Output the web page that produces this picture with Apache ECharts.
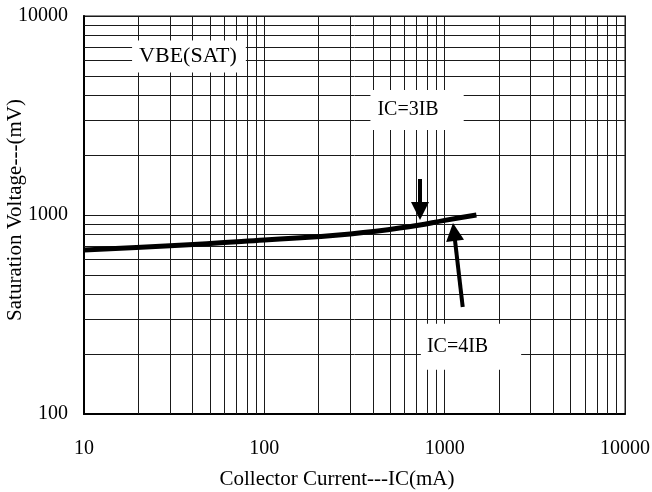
<!DOCTYPE html>
<html><head><meta charset="utf-8">
<script src="https://cdn.jsdelivr.net/npm/echarts@6/dist/echarts.min.js"></script>
<style>html,body{margin:0;padding:0;background:#fff}#c{width:652px;height:492px}</style>
</head><body><div id="c"></div>
<script>
// Curve data: Collector current (mA) vs VBE(SAT) (mV)
var currentMA = [10, 30, 100, 300, 700, 1000, 1500];
var vbeSatMV  = [667, 700, 749, 803, 885, 940, 1000];

// Minor grid positions (log decades)
var xMinorGrid = [20,30,40,50,60,70,80,90,200,300,400,500,600,700,800,900,2000,3000,4000,5000,6000,7000,8000,9000];
var yMinorGrid = [200,300,400,500,600,700,800,900,2000,3000,4000,5000,6000,7000,8000,9000];

// Annotation labels: [x, y] anchor in data units
var labelTexts = ['VBE(SAT)', 'IC=3IB', 'IC=4IB'];
var labelX = [38.2, 703, 1400];
var labelY = [6260, 3371, 218];

// Arrows: [x0, y0] -> [x1, y1]
var arrow3IB = [[730, 1517], [730, 1047]];
var arrow4IB = [[1259, 345], [1127, 822]];

var FONT = 'Liberation Serif';
var chart = echarts.init(document.getElementById('c'), null, {renderer: 'canvas'});

var gridLine = {color: '#1a1a1a', width: 1, type: 'solid'};
var minorMarks = [];
xMinorGrid.forEach(function (v) { minorMarks.push({xAxis: v}); });
yMinorGrid.forEach(function (v) { minorMarks.push({yAxis: v}); });

var paddings = [[5, 9, 5, 7], [10, 25, 10, 7], [13, 33, 13, 6]];
var fontSizes = [22, 20, 20];

var labelSeries = labelTexts.map(function (t, i) {
  return {
    type: 'scatter', z: 5, silent: true, symbolSize: 0,
    itemStyle: {color: '#fff', opacity: 1},
    data: [[labelX[i], labelY[i]]],
    label: {
      show: true, position: 'inside', formatter: t,
      fontFamily: FONT, fontSize: fontSizes[i], color: '#000', opacity: 1,
      backgroundColor: '#fff', padding: paddings[i]
    }
  };
});

function plain(v) { return String(Math.round(v)); }

var option = {
  animation: false,
  backgroundColor: '#fff',
  grid: {left: 84, right: 27, top: 16, bottom: 78, containLabel: false, outerBoundsMode: 'none',
         show: true, borderColor: '#888', borderWidth: 2, backgroundColor: '#fff'},
  xAxis: {
    type: 'log', logBase: 10, min: 10, max: 10000,
    name: 'Collector Current---IC(mA)', nameLocation: 'middle', nameGap: 55,
    nameTextStyle: {fontFamily: FONT, fontSize: 21, color: '#000', padding: [0, 35, 0, 0]},
    axisLine: {show: true, lineStyle: {color: '#000', width: 2}},
    axisTick: {show: false},
    axisLabel: {fontFamily: FONT, fontSize: 20, color: '#000', margin: 25, formatter: plain},
    splitLine: {show: true, lineStyle: gridLine}
  },
  yAxis: {
    type: 'log', logBase: 10, min: 100, max: 10000,
    name: 'Saturation Voltage---(mV)', nameLocation: 'middle', nameGap: 58, nameMoveOverlap: false,
    nameTextStyle: {fontFamily: FONT, fontSize: 21, color: '#000', padding: [0, 0, 0, 10]},
    axisLine: {show: true, lineStyle: {color: '#000', width: 2}},
    axisTick: {show: false},
    axisLabel: {fontFamily: FONT, fontSize: 20, color: '#000', margin: 16, formatter: plain},
    splitLine: {show: true, lineStyle: gridLine}
  },
  series: [
    {
      type: 'line', z: 3, silent: true, symbol: 'none', smooth: true,
      data: currentMA.map(function (x, i) { return [x, vbeSatMV[i]]; }),
      lineStyle: {color: '#000', width: 5},
      markLine: {
        silent: true, symbol: 'none', animation: false,
        label: {show: false}, lineStyle: gridLine,
        data: minorMarks, z: 1
      }
    },
    {
      type: 'line', z: 4, silent: true, symbol: 'none', data: [],
      markLine: {
        silent: true, animation: false, symbol: ['none', 'triangle'], symbolSize: [18, 18],
        label: {show: false}, lineStyle: {color: '#000', width: 4, type: 'solid'},
        itemStyle: {color: '#000'},
        data: [
          [{coord: arrow3IB[0]}, {coord: arrow3IB[1]}],
          [{coord: arrow4IB[0]}, {coord: arrow4IB[1]}]
        ]
      }
    }
  ].concat(labelSeries)
};
chart.setOption(option);
</script></body></html>
